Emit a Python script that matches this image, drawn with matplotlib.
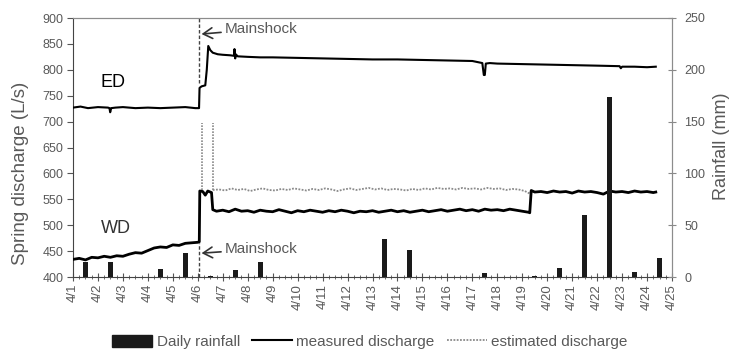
import matplotlib
matplotlib.use("Agg")
import matplotlib.pyplot as plt
from matplotlib.patches import Patch
from matplotlib.lines import Line2D
from matplotlib.ticker import MultipleLocator

plt.rcParams['font.family'] = ['Liberation Sans', 'DejaVu Sans']

# ---------------- data ----------------
day_labels = [f"4/{d}" for d in range(1, 26)]          # tick labels, 4/1 .. 4/25

# daily rainfall (mm) for 4/1 .. 4/24
rain_mm = [14, 14, 0, 8, 23, 1, 7, 14, 0, 0, 0, 0, 37, 26, 0, 0, 4, 0, 1, 9, 60, 174, 5, 18]

# ED measured discharge (days since 4/1 00:00, L/s)
ed_t = [0.0, 0.3, 0.6, 1.0, 1.4, 1.46, 1.49, 1.53, 1.7, 2.0, 2.5, 3.0, 3.5, 4.0, 4.5, 4.9, 5.05,
        5.07, 5.15, 5.3, 5.36, 5.42, 5.5, 5.6, 5.8, 6.0, 6.3, 6.45, 6.47, 6.5, 6.52, 6.6, 7.0, 7.5,
        8.0, 9.0, 10.0, 11.0, 12.0, 13.0, 14.0, 15.0, 16.0, 16.4, 16.46, 16.5, 16.54, 16.7, 17.0,
        18.0, 19.0, 20.0, 21.0, 21.9, 21.95, 22.0, 22.5, 23.0, 23.35]
ed_q = [727, 729, 726, 728, 727, 726, 718, 726, 727, 728, 726, 727, 726, 727, 728, 726, 726,
        765, 768, 770, 800, 846, 838, 833, 830, 829, 828, 827, 840, 822, 830, 826, 825, 824,
        824, 823, 822, 821, 820, 820, 819, 818, 817, 813, 790, 790, 812, 813, 812,
        811, 810, 809, 808, 807, 803, 806, 806, 805, 806]

# WD measured discharge
wd_t = [0.0, 0.25, 0.5, 0.75, 1.0, 1.25, 1.5, 1.75, 2.0, 2.25, 2.5, 2.75, 3.0, 3.25, 3.5, 3.75,
        4.0, 4.25, 4.5, 4.75, 5.0, 5.06, 5.08, 5.2, 5.3, 5.4, 5.55, 5.6, 5.75,
        6.0, 6.25, 6.5, 6.75, 7.0, 7.25, 7.5, 7.75, 8.0, 8.25, 8.5, 8.75, 9.0, 9.25, 9.5, 9.75,
        10.0, 10.25, 10.5, 10.75, 11.0, 11.25, 11.5, 11.75, 12.0, 12.25, 12.5, 12.75, 13.0, 13.25,
        13.5, 13.75, 14.0, 14.25, 14.5, 14.75, 15.0, 15.25, 15.5, 15.75, 16.0, 16.25, 16.5, 16.75,
        17.0, 17.25, 17.5, 17.75, 18.0, 18.25, 18.3, 18.36,
        18.5, 18.75, 19.0, 19.25, 19.5, 19.75, 20.0, 20.25, 20.5, 20.75, 21.0, 21.25, 21.5, 21.75,
        22.0, 22.25, 22.5, 22.75, 23.0, 23.25, 23.35]
wd_q = [434, 436, 433, 438, 437, 440, 438, 441, 440, 444, 447, 446, 451, 456, 458, 457,
        462, 461, 465, 466, 467, 468, 566, 565, 558, 566, 563, 530, 527,
        529, 526, 531, 527, 528, 525, 529, 527, 526, 530, 527, 524, 528, 526, 529, 527,
        525, 528, 526, 529, 527, 524, 527, 526, 528, 525, 527, 529, 526, 528,
        525, 527, 529, 526, 528, 530, 527, 529, 531, 528, 530, 527, 531, 529,
        530, 528, 531, 529, 527, 525, 524, 567,
        564, 565, 563, 566, 564, 565, 562, 566, 564, 565, 563, 560, 566, 564,
        565, 563, 566, 564, 565, 563, 564]

# WD estimated discharge
est_t = [5.6, 5.85, 6.1, 6.35, 6.6, 6.85, 7.1, 7.35, 7.6, 7.85, 8.1, 8.35, 8.6, 8.85, 9.1, 9.35,
         9.6, 9.85, 10.1, 10.35, 10.6, 10.85, 11.1, 11.35, 11.6, 11.85, 12.1, 12.35, 12.6, 12.85,
         13.1, 13.35, 13.6, 13.85, 14.1, 14.35, 14.6, 14.85, 15.1, 15.35, 15.6, 15.85, 16.1, 16.35,
         16.6, 16.85, 17.1, 17.35, 17.6, 17.85, 18.1, 18.3, 18.36]
est_q = [568, 569, 567, 571, 568, 570, 566, 569, 571, 568, 567, 570, 568, 571, 569, 567,
         570, 568, 571, 569, 566, 569, 571, 568, 570, 572, 569, 571, 568, 570,
         569, 567, 570, 568, 571, 569, 572, 570, 571, 569, 572, 570, 571, 569,
         572, 570, 571, 568, 570, 569, 566, 561, 566]

mainshock_t = 5.06
dotted_marks_t = [5.15, 5.6]          # vertical dotted markers on WD
dotted_marks_range = [568, 697]
mainshock_upper = [775, 900]
mainshock_lower = [400, 466]

# ---------------- plot ----------------
fig = plt.figure(figsize=(7.37, 3.51), dpi=100)
ax = fig.add_axes([73/737, 1 - 277/351, (672 - 73)/737, (277 - 18)/351])
ax2 = ax.twinx()

txt = '#595959'
ax.plot(ed_t, ed_q, color='black', lw=1.5, zorder=3)
ax.plot(wd_t, wd_q, color='black', lw=2.0, zorder=3)
ax.plot(est_t, est_q, color='#8a8a8a', lw=1.3, ls=(0, (1, 0.8)), zorder=2)

for xt in dotted_marks_t:
    ax.plot([xt, xt], dotted_marks_range, color='#8a8a8a', lw=1.2, ls=(0, (1, 0.8)), zorder=2)
ax.plot([mainshock_t, mainshock_t], mainshock_upper, color='#444444', lw=1.0, ls=(0, (2.5, 1.5)), zorder=2)
ax.plot([mainshock_t, mainshock_t], mainshock_lower, color='#444444', lw=1.0, ls=(0, (2.5, 1.5)), zorder=2)

arrow_kw = dict(arrowstyle='->,head_length=0.6,head_width=0.35', color='#333333', lw=1.2,
                shrinkA=1, shrinkB=0)
ax.annotate('Mainshock', xy=(5.15, 869), xytext=(6.1, 879), fontsize=11, color=txt,
            va='center', ha='left', arrowprops=arrow_kw)
ax.annotate('Mainshock', xy=(5.15, 446), xytext=(6.1, 454), fontsize=11, color=txt,
            va='center', ha='left', arrowprops=arrow_kw)
ax.text(1.1, 776, 'ED', fontsize=13, color='black', va='center', ha='left')
ax.text(1.1, 494, 'WD', fontsize=13, color='#333333', va='center', ha='left')

bar_x = [i + 0.5 for i in range(len(rain_mm))]
ax2.bar(bar_x, rain_mm, width=0.2, color='#1a1a1a', zorder=4)

ax.set_xlim(0, 24)
ax.set_ylim(400, 900)
ax2.set_ylim(0, 250)
ax.set_yticks(range(400, 901, 50))
ax2.set_yticks(range(0, 251, 50))
ax.set_xticks(range(len(day_labels)))
ax.set_xticklabels(day_labels, rotation=90, fontsize=9.5, color=txt)
ax.xaxis.set_minor_locator(MultipleLocator(0.25))
ax.tick_params(axis='x', which='major', direction='inout', length=6, color='#555555', pad=2)
ax.tick_params(axis='x', which='minor', direction='inout', length=3, color='#555555')
ax.tick_params(axis='y', labelsize=9, labelcolor=txt, direction='out', length=4, color='#555555', pad=3)
ax2.tick_params(axis='y', labelsize=9, labelcolor=txt, direction='inout', length=6, color='#888888', pad=6)

for s in ['top', 'right']:
    ax.spines[s].set_color('#8c8c8c')
    ax2.spines[s].set_color('#8c8c8c')
for s in ['left', 'bottom']:
    ax.spines[s].set_color('#444444')
ax2.spines['left'].set_visible(False)
ax2.spines['bottom'].set_visible(False)

fig.text(21/737, 1 - 173/351, 'Spring discharge (L/s)', rotation=90, fontsize=13.5,
         color=txt, ha='center', va='center')
fig.text(722/737, 1 - 146/351, 'Rainfall (mm)', rotation=90, fontsize=13,
         color=txt, ha='center', va='center')

handles = [Patch(facecolor='#1a1a1a', edgecolor='#1a1a1a'),
           Line2D([], [], color='black', lw=1.5),
           Line2D([], [], color='#8a8a8a', lw=1.3, ls=(0, (1, 0.8)))]
fig.legend(handles, ['Daily rainfall', 'measured discharge', 'estimated discharge'],
           loc='center', bbox_to_anchor=(370/737, 1 - 342/351), ncol=3, frameon=False,
           fontsize=11, handlelength=2.6, handleheight=0.8, columnspacing=0.8, handletextpad=0.3,
           labelcolor=txt)

fig.savefig('out.png', dpi=100)
